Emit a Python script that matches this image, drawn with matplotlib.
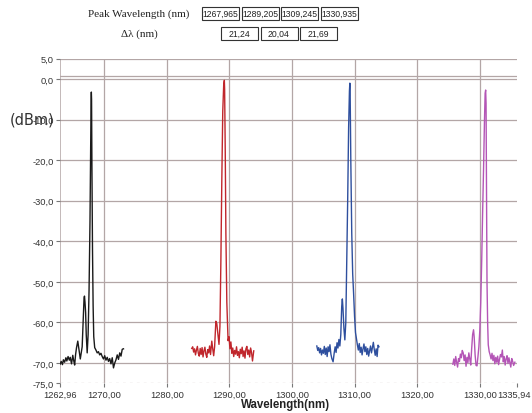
import matplotlib
matplotlib.use("Agg")
import matplotlib.pyplot as plt
import matplotlib.patches as mpatches
import matplotlib.transforms as mtransforms

# ---- data ----
peak_labels = ["1267,965", "1289,205", "1309,245", "1330,935"]
delta_labels = ["21,24", "20,04", "21,69"]

wl_black = [1262.96, 1263.15, 1263.35, 1263.5, 1263.7, 1263.9, 1264.05, 1264.25, 1264.45, 1264.6,
            1264.8, 1265.0, 1265.15, 1265.3, 1265.45, 1265.6, 1265.8, 1266.0, 1266.2, 1266.35,
            1266.5, 1266.65, 1266.8, 1266.87, 1266.95, 1267.05, 1267.15, 1267.3, 1267.45, 1267.6,
            1267.75, 1267.85, 1267.93, 1267.965, 1268.0, 1268.06, 1268.15, 1268.25, 1268.35, 1268.5,
            1268.7, 1268.9, 1269.1, 1269.3, 1269.5, 1269.7, 1269.9, 1270.1, 1270.3, 1270.5,
            1270.7, 1270.9, 1271.1, 1271.3, 1271.5, 1271.7, 1271.9, 1272.1, 1272.3, 1272.5,
            1272.7, 1272.9, 1273.1]
db_black = [-70.3, -69.6, -70.4, -69.2, -69.8, -68.7, -69.5, -68.4, -69.3, -68.6,
            -70.2, -68.1, -69.4, -70.5, -67.9, -66.2, -64.6, -66.8, -69.0, -67.5,
            -66.0, -60.0, -54.0, -53.5, -55.0, -57.5, -63.0, -67.5, -63.0, -52.0,
            -35.0, -18.0, -5.0, -3.2, -5.0, -22.0, -42.0, -56.0, -63.5, -66.2,
            -66.8, -67.5, -67.2, -68.0, -67.6, -68.4, -69.0, -68.2, -69.3, -68.6,
            -69.6, -68.9, -70.2, -68.7, -71.2, -70.0, -69.2, -68.0, -69.1, -67.5,
            -68.3, -66.6, -66.5]

wl_red = [1284.0, 1284.15, 1284.3, 1284.45, 1284.6, 1284.75, 1284.9, 1285.05, 1285.2, 1285.35,
          1285.5, 1285.65, 1285.8, 1285.95, 1286.1, 1286.25, 1286.4, 1286.55, 1286.7, 1286.85,
          1287.0, 1287.2, 1287.35, 1287.5, 1287.65, 1287.85, 1288.0, 1288.15, 1288.35, 1288.5,
          1288.65, 1288.8, 1288.95, 1289.1, 1289.205, 1289.25, 1289.35, 1289.45, 1289.6, 1289.8,
          1289.95, 1290.1, 1290.25, 1290.4, 1290.55, 1290.7, 1290.85, 1291.0, 1291.15, 1291.3,
          1291.45, 1291.6, 1291.75, 1291.9, 1292.05, 1292.2, 1292.35, 1292.5, 1292.65, 1292.8,
          1292.95, 1293.1, 1293.25, 1293.4, 1293.55, 1293.7, 1293.9]
db_red = [-66.4, -66.0, -67.3, -66.5, -68.0, -66.8, -65.9, -67.6, -68.3, -66.4,
          -67.9, -66.2, -68.5, -67.0, -66.1, -67.8, -68.6, -66.7, -67.5, -65.8,
          -67.9, -64.6, -66.5, -68.2, -66.0, -59.7, -60.3, -62.5, -65.4, -61.0,
          -45.0, -25.0, -8.0, -1.5, -0.3, -2.5, -18.0, -38.0, -55.0, -64.5,
          -63.5, -66.5, -64.8, -67.6, -66.3, -68.4, -66.9, -67.8, -66.0, -68.1,
          -67.2, -68.7, -66.6, -67.7, -66.1, -68.4, -67.0, -68.8, -66.5, -65.9,
          -67.9, -66.8, -68.5, -66.3, -67.4, -69.5, -67.0]

wl_blue = [1303.97, 1304.12, 1304.27, 1304.42, 1304.57, 1304.72, 1304.87, 1305.02, 1305.17, 1305.32,
           1305.47, 1305.62, 1305.77, 1305.92, 1306.07, 1306.22, 1306.37, 1306.57, 1306.75, 1306.9,
           1307.05, 1307.2, 1307.35, 1307.5, 1307.65, 1307.8, 1307.95, 1308.05, 1308.15, 1308.3,
           1308.45, 1308.6, 1308.75, 1308.9, 1309.05, 1309.18, 1309.245, 1309.3, 1309.4, 1309.55,
           1309.7, 1309.85, 1310.0, 1310.15, 1310.3, 1310.45, 1310.6, 1310.75, 1310.9, 1311.05,
           1311.2, 1311.35, 1311.5, 1311.65, 1311.8, 1311.95, 1312.1, 1312.25, 1312.4, 1312.55,
           1312.7, 1312.85, 1313.0, 1313.15, 1313.3, 1313.45, 1313.6, 1313.75, 1313.9]
db_blue = [-65.8, -66.9, -66.2, -67.5, -66.4, -68.0, -66.8, -67.6, -65.9, -67.9,
           -66.3, -68.4, -66.0, -67.2, -65.5, -67.8, -68.9, -69.7, -67.5, -66.0,
           -67.4, -65.0, -66.3, -64.2, -65.8, -63.0, -56.0, -54.2, -56.5, -61.5,
           -64.3, -60.0, -45.0, -30.0, -12.0, -3.0, -1.0, -4.0, -20.0, -38.0,
           -48.0, -53.0, -58.5, -62.5, -64.0, -65.5, -66.8, -65.2, -67.4, -66.1,
           -68.0, -66.5, -65.3, -67.2, -66.0, -67.9, -66.4, -68.3, -67.0, -65.8,
           -67.5, -66.2, -64.9, -66.7, -68.1, -66.5, -68.4, -65.6, -66.0]

wl_mag = [1325.7, 1325.85, 1326.0, 1326.15, 1326.3, 1326.45, 1326.6, 1326.75, 1326.9, 1327.05,
          1327.2, 1327.35, 1327.5, 1327.65, 1327.8, 1327.95, 1328.1, 1328.25, 1328.4, 1328.55,
          1328.7, 1328.85, 1329.0, 1329.1, 1329.25, 1329.4, 1329.55, 1329.7, 1329.85, 1330.0,
          1330.15, 1330.3, 1330.45, 1330.6, 1330.75, 1330.85, 1330.935, 1331.0, 1331.08, 1331.15,
          1331.25, 1331.35, 1331.5, 1331.65, 1331.8, 1331.95, 1332.1, 1332.25, 1332.4, 1332.55,
          1332.7, 1332.85, 1333.0, 1333.15, 1333.3, 1333.45, 1333.6, 1333.75, 1333.9, 1334.05,
          1334.2, 1334.35, 1334.5, 1334.65, 1334.8, 1334.95, 1335.1, 1335.25, 1335.4, 1335.6]
db_mag = [-70.3, -69.0, -70.6, -68.4, -69.8, -71.0, -68.9, -69.6, -67.8, -68.7,
          -66.9, -67.5, -69.4, -68.0, -70.8, -68.6, -69.9, -67.5, -69.0, -70.5,
          -66.5, -63.0, -61.8, -63.5, -68.0, -70.6, -70.7, -68.5, -66.0, -62.0,
          -55.0, -45.0, -33.0, -22.0, -10.0, -3.5, -2.7, -6.0, -30.0, -50.0,
          -60.0, -65.5, -67.2, -68.0, -69.0, -67.6, -69.4, -68.1, -70.2, -68.6,
          -69.8, -68.3, -70.4, -69.1, -67.9, -68.5, -66.8, -69.7, -68.4, -70.5,
          -69.0, -68.2, -70.1, -68.7, -69.9, -71.0, -68.9, -69.6, -70.6, -69.8]

traces = [(wl_black, db_black, "#1a1a1a"),
          (wl_red, db_red, "#c0262c"),
          (wl_blue, db_blue, "#2e4f9e"),
          (wl_mag, db_mag, "#b455b6")]

x_ticks = [1262.96, 1270, 1280, 1290, 1300, 1310, 1320, 1330, 1335.94]
y_ticks = [5, 0, -10, -20, -30, -40, -50, -60, -70, -75]

grid_col = "#b3a6a6"

fig = plt.figure(figsize=(5.32, 4.14), dpi=100)
ax = fig.add_axes([60 / 532, (414 - 384.3) / 414, 457 / 532, 324.5 / 414])
ax.set_xlim(x_ticks[0], x_ticks[-1])
ax.set_ylim(-75, 5)

for s in ax.spines.values():
    s.set_visible(False)
ax.axvline(x_ticks[0], color=grid_col, lw=1.1, zorder=1)
for x in x_ticks[1:-1]:
    ax.axvline(x, color=grid_col, lw=0.9, zorder=1)
for y in y_ticks[:-1]:
    ax.axhline(y, color=grid_col, lw=0.9, zorder=1)
ax.axhline(0.75, color=grid_col, lw=0.9, zorder=1)
ax.axhline(-75, color="#d8d0d0", lw=1, ls=(0, (2, 3)), zorder=1)

for wl, db, col in traces:
    ax.plot(wl, db, color=col, lw=1.0, zorder=3)

ax.set_xticks(x_ticks)
ax.set_xticklabels([f"{v:.2f}".replace(".", ",") for v in x_ticks])
ax.set_yticks(y_ticks)
ax.set_yticklabels([f"{v:.1f}".replace(".", ",") for v in y_ticks])
ax.tick_params(axis="both", labelsize=6.7, colors="#777777", labelcolor="#333333",
               length=3, width=0.8, pad=1.5)
for lab in ax.get_xticklabels() + ax.get_yticklabels():
    lab.set_family("Liberation Sans")
# last x label sits a little left of its tick in the original
last = ax.xaxis.get_major_ticks()[-1].label1
last.set_transform(last.get_transform() +
                   mtransforms.ScaledTranslation(-3 / 100, 0, fig.dpi_scale_trans))

fig.text(10 / 532, 1 - 120 / 414, "(dBm)", fontsize=10.5, color="#333333",
         ha="left", va="center")
fig.text(286 / 532, 1 - 405 / 414, "Wavelength(nm)", family="Liberation Sans",
         fontsize=8.3, fontweight="bold", color="#222222", ha="center", va="center")

# ---- header table, drawn in pixel coordinates ----
hdr = fig.add_axes([0, 0, 1, 1], zorder=5)
hdr.set_xlim(0, 532)
hdr.set_ylim(414, 0)
hdr.axis("off")
hdr.patch.set_alpha(0)
hdr.text(139, 14, "Peak Wavelength (nm)", family="Liberation Serif", fontsize=8,
         ha="center", va="center", color="#222222")
hdr.text(139, 34, "\u0394\u03bb (nm)", family="Liberation Serif", fontsize=8,
         ha="center", va="center", color="#222222")
for i, lab in enumerate(peak_labels):
    x0 = 202 + i * 39.5
    hdr.add_patch(mpatches.Rectangle((x0, 8), 37, 13, fill=False, ec="#333333", lw=0.8))
    hdr.text(x0 + 18.5, 14.5, lab, family="Liberation Sans", fontsize=6.2,
             ha="center", va="center", color="#222222")
for i, lab in enumerate(delta_labels):
    x0 = 221 + i * 39.5
    hdr.add_patch(mpatches.Rectangle((x0, 28), 37, 13, fill=False, ec="#333333", lw=0.8))
    hdr.text(x0 + 18.5, 34.5, lab, family="Liberation Sans", fontsize=6.2,
             ha="center", va="center", color="#222222")

fig.savefig("out.png", dpi=100)
